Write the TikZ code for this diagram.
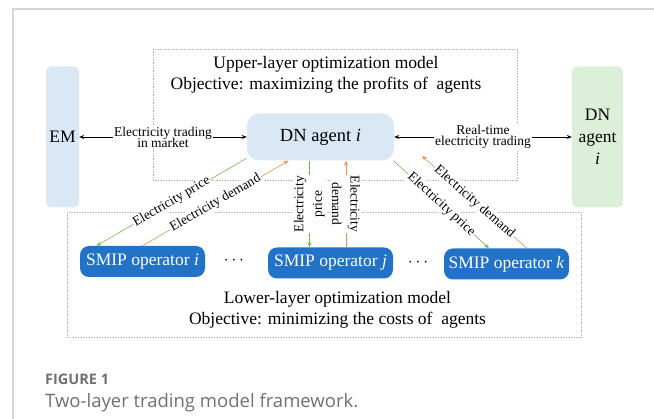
\documentclass[tikz,border=0pt]{standalone}
\usepackage{fontspec}
\setmainfont{Liberation Serif}
\newfontfamily\capfont{Open Sans}
\definecolor{paleBlue}{HTML}{DAE8F5}
\definecolor{paleGreen}{HTML}{DCEFD8}
\definecolor{smipBlue}{HTML}{2272C8}
\definecolor{priceGreen}{HTML}{6CC04A}
\definecolor{demandOrange}{HTML}{F28C4C}
\definecolor{frameGray}{HTML}{D6D6D6}
\definecolor{capGray}{HTML}{707070}
\usepackage{tikz}
\usetikzlibrary{arrows.meta, positioning}

\begin{document}
\begin{tikzpicture}[
    x=1pt, y=-1pt,
    layer/.style={draw=gray!55, dash pattern=on 0.8pt off 0.8pt, line width=0.45pt},
    market/.style={rectangle, rounded corners=5pt, inner sep=0pt, align=center,
                   font=\fontsize{17.5}{22}\selectfont},
    agent/.style={rectangle, rounded corners=12pt, fill=paleBlue, inner sep=0pt,
                  minimum width=147pt, minimum height=47pt, font=\fontsize{18.5}{22}\selectfont},
    operator/.style={rectangle, rounded corners=9pt, fill=smipBlue, text=white, inner sep=0pt,
                     minimum width=125pt, minimum height=31pt, font=\fontsize{17.5}{20}\selectfont},
    heading/.style={align=center, font=\fontsize{17.5}{21}\selectfont},
    tag/.style={fill=white, inner sep=1pt, align=center, font=\fontsize{13.5}{13.5}\selectfont},
    trade/.style={line width=0.6pt, {Stealth[length=5pt,width=4pt]}-{Stealth[length=5pt,width=4pt]}},
    price/.style={draw=priceGreen, line width=0.6pt, -{Stealth[length=5pt,width=4pt]}},
    demand/.style={draw=demandOrange, line width=0.6pt, -{Stealth[length=5pt,width=4pt]}}
  ]
    \useasboundingbox (0,0) rectangle (654,419);
    \draw[frameGray, line width=1.2pt] (13,419) -- (13,9) -- (654,9);

    % two layers
    \draw[layer] (153,49) rectangle (517,180);
    \draw[layer] (67,212) rectangle (581,337);
    \node[heading] (uptitle) at (326,74.5) {Upper-layer optimization model\\Objective: maximizing the profits of \ agents};
    \node[heading] (lowtitle) at (337.5,310) {Lower-layer optimization model\\Objective: minimizing the costs of \ agents};

    \node[market, fill=paleBlue, minimum width=33pt, minimum height=141pt] (em) at (62.5,137) {EM};
    \node[market, fill=paleGreen, minimum width=51pt, minimum height=141pt] (dnr) at (597.5,137) {DN\\agent\\\textit{i}};
    \node[agent] (dn) at (320.5,137) {DN agent \textit{i}};

    \node[operator] (smipi) at (142.5,261.5) {SMIP operator \textit{i}};
    \node[operator] (smipj) at (330.5,263) {SMIP operator \textit{j}};
    \node[operator] (smipk) at (506.5,264) {SMIP operator \textit{k}};
    \node[font=\fontsize{17.5}{20}\selectfont] (dotsa) at (234,261) {$\cdots$};
    \node[font=\fontsize{17.5}{20}\selectfont] (dotsb) at (418,263) {$\cdots$};

    \draw[trade] (em) -- node[tag] {Electricity trading\\[-2.5pt]in market} (dn);
    \draw[trade] (dn) -- node[tag] {Real-time\\[-2.5pt]electricity trading} (dnr);

    \draw[price] (dn.196) -- node[tag, sloped] {Electricity price} ([xshift=-46pt]smipi.north);
    \draw[demand] (smipi.north) -- node[tag, sloped] {Electricity demand} ([xshift=-32pt]dn.south);
    \draw[price] ([xshift=-11pt]dn.south) -- node[tag, rotate=90] {Electricity\\[5pt]price} ([xshift=-21pt]smipj.north);
    \draw[demand] ([xshift=15.5pt]smipj.north) -- node[tag, rotate=-90] {Electricity\\[5pt]demand} ([xshift=25.5pt]dn.south);
    \draw[price] (dn.342) -- node[tag, sloped] {Electricity price} ([xshift=-17.5pt]smipk.north);
    \coordinate (dmdtip) at (422,156);
    \draw[demand] ([xshift=20.5pt]smipk.north) -- node[tag, sloped] {Electricity demand} (dmdtip);

    % caption
    \node[anchor=west, inner sep=0pt, text=capGray, font=\capfont\bfseries\fontsize{14.5}{16}\selectfont] (figno) at (45,379) {FIGURE 1};
    \node[anchor=west, inner sep=0pt, text=capGray, font=\capfont\fontsize{18.5}{21}\selectfont] (figcap) at (45,403) {Two-layer trading model framework.};
  \end{tikzpicture}
\end{document}
